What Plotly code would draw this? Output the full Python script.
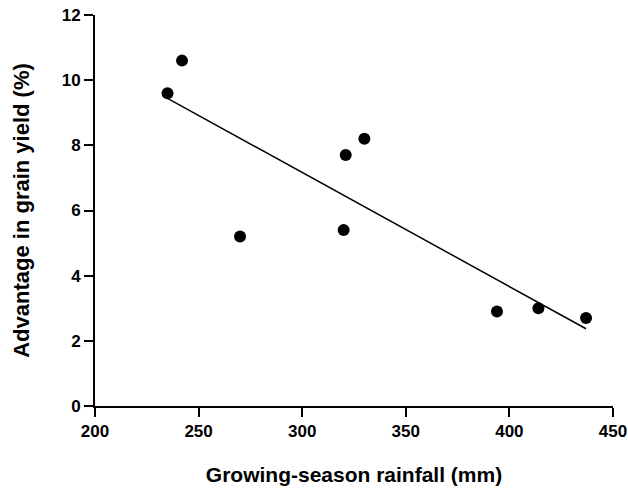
import numpy as np
import plotly.graph_objects as go

rainfall = [235, 242, 270, 320, 321, 330, 394, 414, 437]
advantage = [9.6, 10.6, 5.2, 5.4, 7.7, 8.2, 2.9, 3.0, 2.7]
x_ticks = [200, 250, 300, 350, 400, 450]
y_ticks = [0, 2, 4, 6, 8, 10, 12]

slope, intercept = np.polyfit(rainfall, advantage, 1)
fit_x = [min(rainfall), max(rainfall)]
fit_y = [slope * v + intercept for v in fit_x]

font = "Liberation Sans, Arial, sans-serif"

fig = go.Figure()
fig.add_trace(go.Scatter(x=fit_x, y=fit_y, mode="lines",
                         line=dict(color="black", width=1.5), showlegend=False))
fig.add_trace(go.Scatter(x=rainfall, y=advantage, mode="markers",
                         marker=dict(color="black", size=12), showlegend=False))

axis_common = dict(showline=True, linecolor="black", linewidth=2,
                   ticks="outside", ticklen=9, tickwidth=2, tickcolor="black",
                   showgrid=False, zeroline=False, automargin=False,
                   ticklabeloverflow="allow",
                   tickfont=dict(family=font, size=17, color="black"))

fig.update_xaxes(range=[200, 450], tickvals=x_ticks,
                 ticktext=[f"<b>{v}</b>" for v in x_ticks],
                 title=dict(text="<b>Growing-season rainfall (mm)</b>",
                            font=dict(family=font, size=21, color="black"), standoff=27),
                 **axis_common)
fig.update_yaxes(range=[0, 12], tickvals=y_ticks,
                 ticktext=[f"<b>{v}</b>" for v in y_ticks],
                 title=dict(text="<b>Advantage in grain yield (%)</b>",
                            font=dict(family=font, size=22, color="black"), standoff=26),
                 **axis_common)

fig.update_layout(width=628, height=490,
                  margin=dict(l=95, r=15, t=15, b=84),
                  plot_bgcolor="white", paper_bgcolor="white")

fig.write_html("out.html", config={"displayModeBar": False},
               post_script="document.body.style.margin='0';document.body.style.overflow='hidden';")
